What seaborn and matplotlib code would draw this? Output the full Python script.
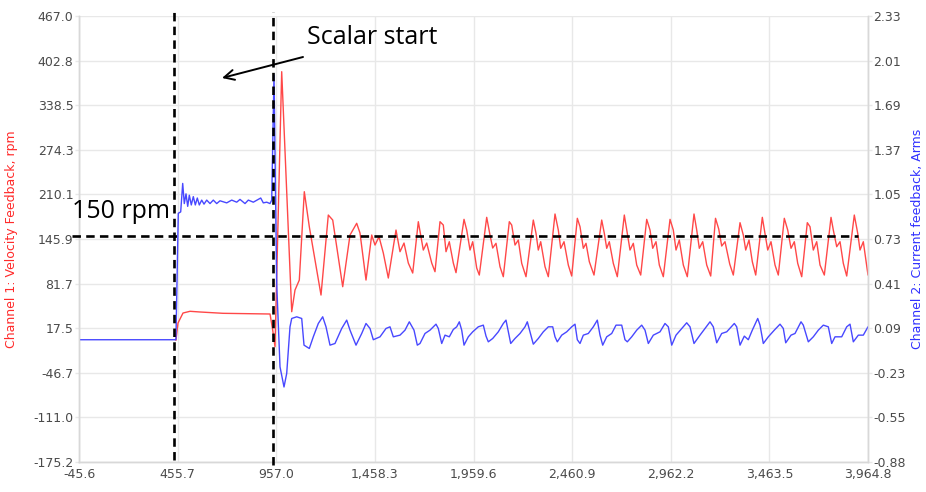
import numpy as np
import pandas as pd
import matplotlib
matplotlib.use("Agg")
import matplotlib.pyplot as plt
from matplotlib.lines import Line2D
import seaborn as sns

# ---- Channel 1: velocity feedback (rpm), from the step command onwards ----
vel_t = [447, 457.6, 483, 518.6, 569.4, 686.4, 925.3, 939, 950.7, 984.7,
         1035.6, 1052.3, 1074.2, 1099.6, 1125, 1184.5, 1221.6, 1244, 1294.8,
         1331.9, 1365.9, 1382.7, 1413.2, 1442.2, 1459, 1479.3, 1501.2, 1526.6,
         1565.7, 1586, 1606.4, 1628.2, 1650.6, 1679.1, 1704.5, 1721.8, 1747.2,
         1763.9, 1789.4, 1806.1, 1819.9, 1836.6, 1857, 1870.7, 1911.4, 1925.1,
         1941.9, 1955.6, 1975.9, 1989.1, 2026.7, 2043.5, 2057.2, 2074, 2094.3,
         2111.1, 2141.6, 2153.8, 2170.6, 2187.4, 2204.6, 2226.5, 2263.6, 2277.3,
         2289, 2301.2, 2323.1, 2339.9, 2373.9, 2390.7, 2402.9, 2419.7, 2441.5,
         2458.8, 2487.3, 2501, 2517.8, 2531.5, 2548.3, 2572.1, 2611.3, 2624.5,
         2636.7, 2649.9, 2670.2, 2690.6, 2726.2, 2741.4, 2755.1, 2771.9, 2789.2,
         2809.5, 2840, 2856.8, 2870.5, 2887.3, 2904.1, 2924.4, 2958.5, 2975.2,
         2989, 3005.7, 3026.1, 3046.4, 3080.4, 3094.2, 3107.4, 3124.7, 3145,
         3165.3, 3189.7, 3206, 3221.2, 3238, 3261.9, 3280.2, 3314.3, 3331,
         3343.2, 3360, 3376.8, 3394.1, 3427.6, 3441.3, 3455.1, 3471.8, 3492.2,
         3508.9, 3539.4, 3556.7, 3573.5, 3590.3, 3607.5, 3627.9, 3656.3, 3670.1,
         3686.8, 3704.1, 3720.9, 3742.8, 3776.8, 3788.5, 3805.8, 3822.6, 3839.3,
         3856.6, 3895.2, 3912.5, 3924.2, 3941, 3964.8]
vel_rpm = [0, 24.9, 39.3, 41.8, 40.8, 38.9, 37.9, 14.8, -9.2, 386.8,
           41.2, 72.4, 86.8, 214, 163.6, 65.2, 180.4, 173.2, 77.2,
           151.6, 168.5, 154.5, 86.8, 151.6, 137.2, 149.2, 125.7, 89.7,
           158.8, 127.6, 140.1, 111.3, 96.9, 170.8, 130, 140.1, 111.3,
           98.8, 170.8, 166, 127.6, 142, 111.3, 97.4, 174.2, 158.8,
           130, 142, 104.1, 94, 177.1, 151.6, 132.9, 139.7, 106,
           91.6, 170.8, 166, 137.2, 144.4, 110.9, 91.6, 173.2, 154.1,
           130, 142, 106, 91.6, 181.9, 158.8, 132.5, 142, 108.4,
           92.6, 175.7, 163.6, 132.5, 139.7, 113.2, 94, 173.2, 154.1,
           132.5, 142, 110.9, 91.6, 180.4, 154.1, 130, 139.7, 108.4,
           94, 174.2, 158.8, 132.5, 142, 108.4, 91.6, 174.2, 158.8,
           130, 144.4, 108.4, 91.6, 181.9, 158.8, 132.5, 142, 108.4,
           92.6, 175.7, 160.3, 135.8, 142, 109.9, 94, 169.4, 151.6,
           130, 144.4, 113.2, 94, 177.1, 154.1, 130, 142, 108.4,
           94, 175.7, 158.8, 132.5, 142, 110.9, 91.6, 169.4, 163.6,
           130, 142, 108.4, 94, 177.1, 158.8, 134.8, 142, 110.9,
           92.6, 180.4, 154.1, 130, 142, 94]

# ---- Channel 2: current feedback (Arms) ----
cur_t = [-45.6, 447, 459.1, 471.3, 481.5, 489.6, 498.3, 506.9, 515.1, 525.2,
         535.4, 545.6, 555.7, 565.9, 578.1, 589.8, 603.5, 620.3, 637, 654.3,
         671.1, 705.2, 730.6, 756, 772.8, 798.2, 815, 840.4, 865.8, 878,
         891.2, 908.5, 925.3, 933.9, 945.6, 959.3, 976.1, 996.4, 1010.1, 1026.9,
         1035.6, 1061, 1086.4, 1098.1, 1125, 1145.3, 1170.8, 1193.1, 1209.9,
         1230.2, 1255.6, 1289.7, 1315.1, 1331.9, 1362.4, 1391.4, 1413.2, 1433.6,
         1450.3, 1484.4, 1514.9, 1535.2, 1552, 1586, 1611.5, 1633.3, 1657.2,
         1674, 1687.7, 1713.1, 1738.5, 1769, 1780.7, 1798, 1814.8, 1836.6,
         1857, 1874.2, 1887.5, 1899.7, 1911.4, 1933.2, 1955.6, 1984, 2009.5,
         2023.2, 2034.9, 2057.2, 2085.7, 2111.1, 2124.8, 2136.5, 2148.7, 2170.6,
         2196, 2221.4, 2233.1, 2246.8, 2263.6, 2289, 2314.4, 2339.9, 2362.2,
         2373.9, 2385.6, 2408, 2433.4, 2458.8, 2475.6, 2487.3, 2501, 2517.8,
         2543.2, 2568.6, 2588.9, 2602.6, 2616.4, 2636.7, 2662.1, 2684, 2712.9,
         2729.7, 2741.4, 2763.8, 2789.2, 2814.6, 2831.4, 2848.2, 2873.6, 2907.6,
         2933, 2949.8, 2967.1, 2989, 3017.9, 3043.3, 3060.1, 3080.4, 3110.9,
         3136.3, 3161.8, 3178.5, 3195.8, 3221.2, 3246.7, 3285.3, 3297.4, 3314.3,
         3336.1, 3356.4, 3376.8, 3404.2, 3415.9, 3432.7, 3458.1, 3488.6, 3517.6,
         3534.3, 3546.6, 3573.5, 3593.8, 3624.3, 3636, 3661.4, 3686.8, 3712.3,
         3737.7, 3763.1, 3780.3, 3797.1, 3831.2, 3856.6, 3873.4, 3890.2, 3915.6,
         3941, 3964.8]
cur_a = [0.0, 0.0, 0.91, 0.92, 1.125, 0.98, 1.05, 0.96, 1.04, 0.97,
         1.03, 0.97, 1.02, 0.97, 1.005, 0.976, 1.005, 0.98, 1.005, 0.98,
         1.0, 0.985, 1.005, 0.99, 1.01, 0.98, 1.005, 0.99, 1.01, 1.02,
         0.985, 0.99, 0.98, 1.005, 1.905, 0.405, -0.195, -0.34, -0.243, 0.093,
         0.153, 0.165, 0.153, -0.039, -0.063, 0.021, 0.117, 0.165, 0.093,
         -0.039, -0.027, 0.081, 0.141, 0.069, -0.039, 0.045, 0.117, 0.081,
         0.0, 0.021, 0.081, 0.093, 0.021, 0.033, 0.069, 0.129, 0.069,
         -0.039, -0.027, 0.045, 0.069, 0.112, 0.081, -0.027, 0.033, 0.021,
         0.074, 0.093, 0.129, 0.069, -0.039, 0.021, 0.057, 0.093, 0.105,
         0.026, -0.015, 0.009, 0.057, 0.117, 0.141, 0.057, -0.027, 0.009,
         0.045, 0.093, 0.129, 0.057, -0.032, 0.009, 0.057, 0.093, 0.093,
         0.021, -0.015, 0.033, 0.057, 0.093, 0.112, 0.0, -0.027, 0.033,
         0.045, 0.093, 0.141, 0.033, -0.039, 0.021, 0.045, 0.105, 0.105,
         0.0, -0.015, 0.021, 0.069, 0.105, 0.069, -0.027, 0.033, 0.057,
         0.117, 0.093, -0.039, 0.033, 0.081, 0.122, 0.093, -0.027, 0.033,
         0.081, 0.129, 0.093, -0.022, 0.045, 0.057, 0.117, 0.093, -0.039,
         0.026, 0.0, 0.069, 0.153, 0.105, -0.027, 0.021, 0.069, 0.112,
         0.081, -0.022, 0.033, 0.045, 0.129, 0.105, -0.015, 0.021, 0.069,
         0.105, 0.093, -0.027, 0.021, 0.021, 0.093, 0.112, -0.015, 0.033,
         0.033, 0.093]

# ---- axes scales and tick labels ----
x_range = (-45.6, 3964.8)
x_tick_labels = ["-45.6", "455.7", "957.0", "1,458.3", "1,959.6", "2,460.9",
                 "2,962.2", "3,463.5", "3,964.8"]
vel_range = (-175.2, 467.0)
vel_tick_labels = ["-175.2", "-111.0", "-46.7", "17.5", "81.7", "145.9",
                   "210.1", "274.3", "338.5", "402.8", "467.0"]
cur_range = (-0.88, 2.33)
cur_tick_labels = ["-0.88", "-0.55", "-0.23", "0.09", "0.41", "0.73",
                   "1.05", "1.37", "1.69", "2.01", "2.33"]

# ---- annotations ----
ref_speed = 150          # rpm, dashed reference level
event_times = [437, 940] # step command / scalar start
ref_label = "150 rpm"
event_label = "Scalar start"

sns.set_style("white")
plt.rcParams["font.family"] = ["DejaVu Sans"]

RED = "#ff4848"
BLUE = "#4848ff"
GRID = "#e8e8e8"
TICK_TXT = "#4a4a4a"

fig = plt.figure(figsize=(9.26, 4.92), dpi=100)
ax = fig.add_axes([79 / 926, 30 / 492, 789 / 926, 446 / 492])
ax2 = ax.twinx()

vel_df = pd.DataFrame({"t": vel_t, "rpm": vel_rpm})
cur_df = pd.DataFrame({"t": cur_t, "a": cur_a})

sns.lineplot(data=vel_df, x="t", y="rpm", ax=ax, color=RED, lw=1.0,
             sort=False, estimator=None)
sns.lineplot(data=cur_df, x="t", y="a", ax=ax2, color=BLUE, lw=1.0,
             sort=False, estimator=None)

ax.set_xlim(*x_range)
ax.set_ylim(*vel_range)
ax2.set_ylim(*cur_range)

ax.set_xticks(np.linspace(*x_range, len(x_tick_labels)))
ax.set_xticklabels(x_tick_labels)
ax.set_yticks(np.linspace(*vel_range, len(vel_tick_labels)))
ax.set_yticklabels(vel_tick_labels)
ax2.set_yticks(np.linspace(*cur_range, len(cur_tick_labels)))
ax2.set_yticklabels(cur_tick_labels)

ax.grid(True, color=GRID, lw=1.0)
ax2.grid(False)
ax.set_axisbelow(True)

for a in (ax, ax2):
    for s in a.spines.values():
        s.set_color("#d8d8d8")
        s.set_linewidth(1.0)
    a.tick_params(colors=GRID, labelcolor=TICK_TXT, labelsize=9,
                  length=3, width=1.0, pad=1)
ax.spines["top"].set_visible(False)
ax2.spines["top"].set_visible(False)

ax.set_xlabel("")
ax.set_ylabel("Channel 1: Velocity Feedback, rpm", color="#ff2a2a", fontsize=9)
ax2.set_ylabel("Channel 2: Current feedback, Arms", color="#3030ff", fontsize=9)
ax.yaxis.set_label_coords(-0.077, 0.5)
ax2.yaxis.set_label_coords(1.055, 0.5)

# dashed markers, placed on the top axes so they sit over both traces
dash = dict(color="black", lw=1.9, ls=(0, (3.2, 2.0)), clip_on=False, zorder=5)
ax_blend = ax.get_xaxis_transform()   # x in data, y in axes fraction
ax2.add_line(Line2D([event_times[0]] * 2, [0.0045, 1.018],
                    transform=ax_blend, **dash))
ax2.add_line(Line2D([event_times[1]] * 2, [-0.007, 1.009],
                    transform=ax_blend, **dash))
ax2.add_line(Line2D([-0.009, 0.987], [ref_speed] * 2,
                    transform=ax.get_yaxis_transform(), **dash))

txt_font = dict(fontsize=18, family="Open Sans", color="black", zorder=6)
ax2.text(-0.009, (462 - 212) / 446, ref_label, transform=ax2.transAxes,
         ha="left", va="center", **txt_font)
ax2.text((307 - 79) / 789, (462 - 38) / 446, event_label,
         transform=ax2.transAxes, ha="left", va="center", **txt_font)
ax2.annotate("", xy=((222 - 79) / 789, (462 - 78) / 446), xycoords=ax2.transAxes,
             xytext=((303 - 79) / 789, (462 - 57) / 446), textcoords=ax2.transAxes,
             arrowprops=dict(arrowstyle="->", color="black", lw=1.4,
                             shrinkA=0, shrinkB=0, mutation_scale=18),
             zorder=6)

fig.savefig("out.png", dpi=100)
